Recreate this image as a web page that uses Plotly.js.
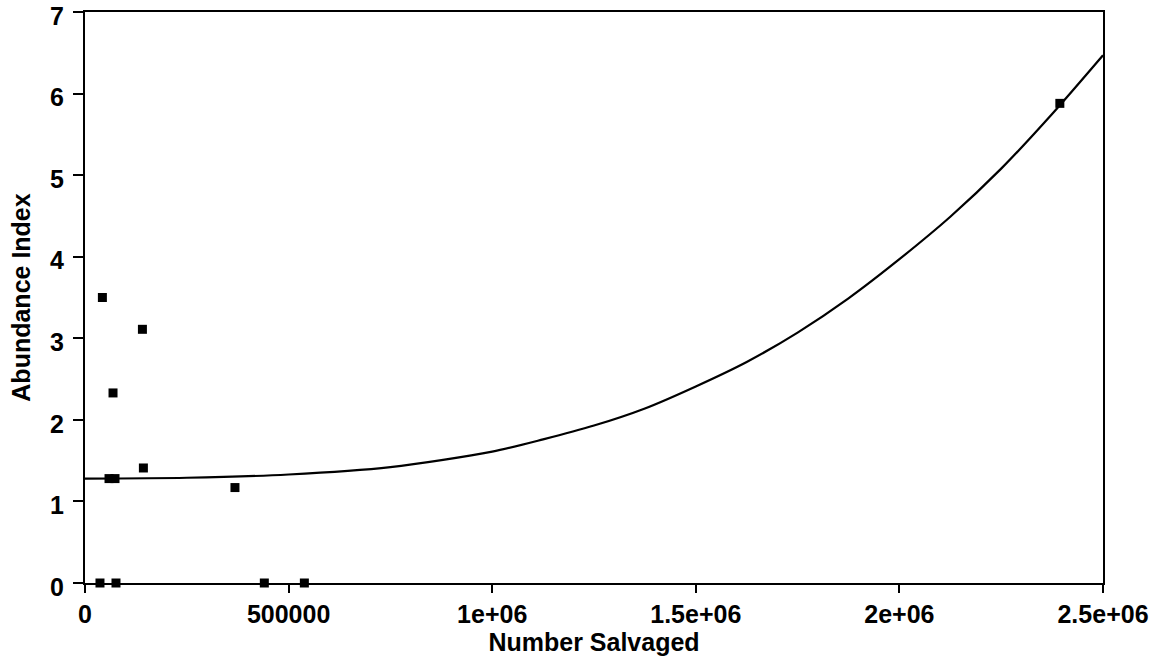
<!DOCTYPE html>
<html>
<head>
<meta charset="utf-8">
<script src="https://cdn.plot.ly/plotly-3.0.1.min.js"></script>
<style>html,body{margin:0;padding:0;background:#fff;}#chart{width:1168px;height:656px;}</style>
</head>
<body>
<div id="chart"></div>
<script>
// Observed points (Number Salvaged vs Abundance Index)
const salvaged = [42700, 141000, 68800, 143400, 59000, 73700, 368300, 36800, 76100, 440400, 538700, 2394000];
const abundance = [3.50, 3.11, 2.33, 1.41, 1.28, 1.28, 1.17, 0, 0, 0, 0, 5.88];

// Fitted curve
const curveX = [0, 250000, 500000, 750000, 1000000, 1125000, 1250000, 1375000, 1500000, 1625000, 1750000, 1875000, 2000000, 2125000, 2250000, 2375000, 2500000];
const curveY = [1.28, 1.29, 1.33, 1.42, 1.61, 1.76, 1.93, 2.14, 2.41, 2.71, 3.07, 3.49, 3.97, 4.49, 5.08, 5.75, 6.47];

// Axis ticks
const xTickVals = [0, 500000, 1000000, 1500000, 2000000, 2500000];
const xTickText = ["0", "500000", "1e+06", "1.5e+06", "2e+06", "2.5e+06"];
const yTickVals = [0, 1, 2, 3, 4, 5, 6, 7];

const font = {family: "Liberation Sans, Arial, sans-serif", size: 25, color: "#000", weight: "bold"};

const traces = [
  {x: curveX, y: curveY, mode: "lines", line: {color: "#000", width: 2.2, shape: "spline", smoothing: 0.8}, hoverinfo: "skip"},
  {x: salvaged, y: abundance, mode: "markers", marker: {symbol: "square", size: 9, color: "#000"}, cliponaxis: false}
];

const layout = {
  width: 1168, height: 656,
  margin: {l: 85, r: 65, t: 12, b: 73},
  paper_bgcolor: "#fff", plot_bgcolor: "#fff",
  showlegend: false,
  font: font,
  xaxis: {
    range: [0, 2500000], tickvals: xTickVals, ticktext: xTickText,
    ticks: "outside", ticklen: 8, tickwidth: 2, tickcolor: "#000",
    showline: true, linecolor: "#000", linewidth: 2, mirror: true,
    showgrid: false, zeroline: false, ticklabeloverflow: "allow",
    tickfont: font,
    title: {text: "Number Salvaged", font: font, standoff: 3}
  },
  yaxis: {
    range: [0, 7], tickvals: yTickVals,
    ticks: "outside", ticklen: 10, tickwidth: 2, tickcolor: "#000",
    showline: true, linecolor: "#000", linewidth: 2, mirror: true,
    showgrid: false, zeroline: false, ticklabeloverflow: "allow",
    ticklabelstandoff: 4, ticklabelshift: 4,
    tickfont: font,
    title: {text: "Abundance Index", font: font, standoff: 12}
  }
};

Plotly.newPlot("chart", traces, layout, {displayModeBar: false, staticPlot: true});
</script>
</body>
</html>
